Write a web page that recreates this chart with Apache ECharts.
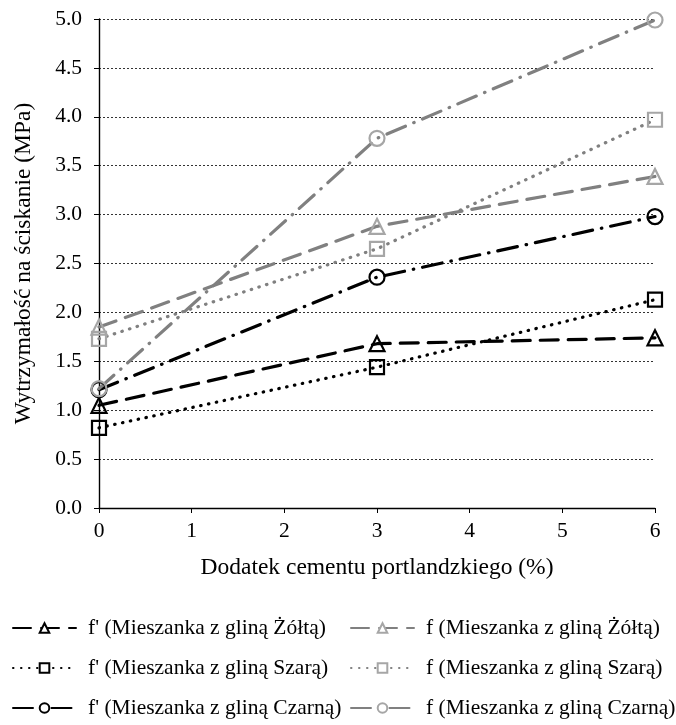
<!DOCTYPE html>
<html>
<head>
<meta charset="utf-8">
<script src="https://cdn.jsdelivr.net/npm/echarts@6/dist/echarts.min.js"></script>
<style>
  html, body { margin: 0; padding: 0; background: #fff; }
  #main { width: 676px; height: 725px; }
</style>
</head>
<body>
<div id="main"></div>
<script>
// dodatek cementu (%)
var xs = [0, 3, 6];

// wytrzymalosc (MPa)
var fpZolta = [1.05, 1.68, 1.74];
var fZolta = [1.85, 2.88, 3.39];
var fpSzara = [0.82, 1.44, 2.13];
var fSzara = [1.73, 2.65, 3.97];
var fpCzarna = [1.21, 2.36, 2.98];
var fCzarna = [1.22, 3.78, 4.99];

var names = [
    "f' (Mieszanka z gliną Żółtą)", "f (Mieszanka z gliną Żółtą)",
    "f' (Mieszanka z gliną Szarą)", "f (Mieszanka z gliną Szarą)",
    "f' (Mieszanka z gliną Czarną)", "f (Mieszanka z gliną Czarną)"
];

var FONT = 'Liberation Serif';
var BLACK = '#000000', GRAY_LINE = '#808080', GRAY_MARK = '#a6a6a6';

var DASH = [18, 10];
var DOT = [0.5, 7.5];
var DASHDOT = [20, 9, 0.5, 9];

function pairs(vals) {
    var out = [];
    for (var i = 0; i < xs.length; i++) out.push([xs[i], vals[i]]);
    return out;
}

function mkSeries(name, vals, symbol, size, lineColor, markColor, dash) {
    return {
        name: name,
        type: 'line',
        data: pairs(vals),
        symbol: symbol,
        symbolSize: size,
        showAllSymbol: true,
        lineStyle: { color: lineColor, width: 3.2, type: dash, cap: 'round' },
        itemStyle: { color: 'rgba(255,255,255,0)', borderColor: markColor, borderWidth: 2.2 },
        emphasis: { disabled: true },
        animation: false
    };
}

// one legend per entry, 2 columns x 3 rows
function mkLegend(i) {
    var col = i % 2, row = Math.floor(i / 2);
    return {
        left: col === 0 ? 12 : 350,
        top: 617 + row * 40,
        padding: 0,
        data: [names[i]],
        itemWidth: 63, itemHeight: 12,
        itemStyle: { color: '#fff' },
        textStyle: { fontFamily: FONT, fontSize: 21.5, lineHeight: 22, color: '#000', padding: [0, 0, 0, 7] },
        selectedMode: false
    };
}

var legends = [];
for (var i = 0; i < names.length; i++) legends.push(mkLegend(i));

var chart = echarts.init(document.getElementById('main'));

chart.setOption({
    backgroundColor: '#fff',
    textStyle: { fontFamily: FONT, color: '#000' },
    grid: { left: 99, top: 19, width: 556, height: 489, containLabel: false },
    xAxis: {
        type: 'value',
        min: 0, max: 6, interval: 1,
        name: 'Dodatek cementu portlandzkiego (%)',
        nameLocation: 'middle',
        nameGap: 48,
        nameTextStyle: { fontFamily: FONT, fontSize: 23.5, color: '#000' },
        axisLine: { show: true, onZero: false, lineStyle: { color: '#000', width: 1.4 } },
        axisTick: { show: true, inside: false, length: 5, lineStyle: { color: '#000' } },
        axisLabel: { fontFamily: FONT, fontSize: 21.5, color: '#000', margin: 12 },
        splitLine: { show: false }
    },
    yAxis: {
        type: 'value',
        min: 0, max: 5, interval: 0.5,
        name: 'Wytrzymałość na ściskanie (MPa)',
        nameLocation: 'middle',
        nameGap: 63,
        nameRotate: 90,
        nameTextStyle: { fontFamily: FONT, fontSize: 23.5, color: '#000' },
        axisLine: { show: true, lineStyle: { color: '#000', width: 1.4 } },
        axisTick: { show: true, inside: false, length: 5, lineStyle: { color: '#000' } },
        axisLabel: {
            fontFamily: FONT, fontSize: 21.5, color: '#000', margin: 17,
            formatter: function (v) { return v.toFixed(1); }
        },
        splitLine: { show: true, lineStyle: { color: '#333', width: 1, type: [2, 2] } }
    },
    legend: legends,
    series: [
        mkSeries(names[0], fpZolta, 'triangle', 15, BLACK, BLACK, DASH),
        mkSeries(names[1], fZolta, 'triangle', 15, GRAY_LINE, GRAY_MARK, DASH),
        mkSeries(names[2], fpSzara, 'rect', 14, BLACK, BLACK, DOT),
        mkSeries(names[3], fSzara, 'rect', 14, GRAY_LINE, GRAY_MARK, DOT),
        mkSeries(names[4], fpCzarna, 'circle', 15, BLACK, BLACK, DASHDOT),
        mkSeries(names[5], fCzarna, 'circle', 15, GRAY_LINE, GRAY_MARK, DASHDOT)
    ]
});
</script>
</body>
</html>
